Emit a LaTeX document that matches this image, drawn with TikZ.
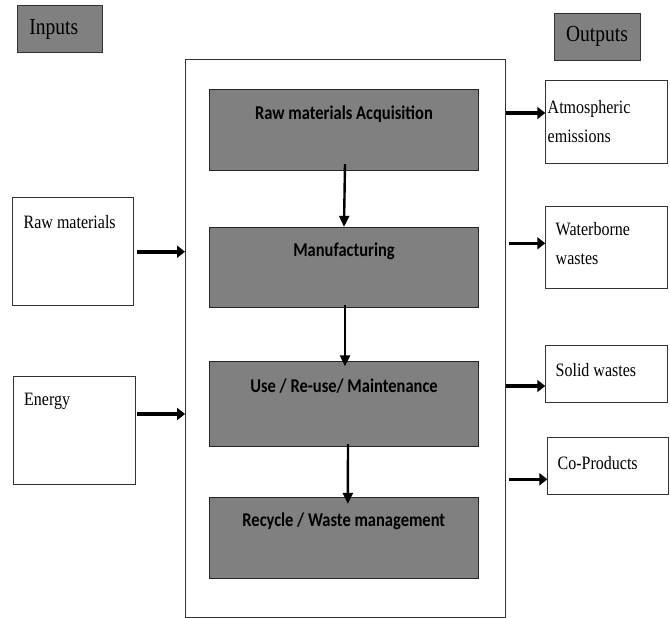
\documentclass[tikz,border=0pt]{standalone}
\usepackage{graphicx}
\usepackage{fontspec}
\setmainfont{Liberation Serif}
\newfontfamily\calfont{Carlito}
\usetikzlibrary{arrows.meta}
\definecolor{boxgray}{HTML}{808080}
\newcommand{\tallbox}[1]{\scalebox{1}[1.18]{#1}}
\begin{document}
\begin{tikzpicture}[x=1pt,y=-1pt,
  grayhead/.style={draw=black!80, fill=boxgray, line width=0.9pt, inner sep=0pt},
  graybox/.style={draw=black!85, fill=boxgray, line width=0.9pt, inner sep=0pt, minimum width=269pt},
  whitebox/.style={draw=black!80, fill=white, line width=0.9pt, inner sep=0pt},
  headtxt/.style={inner sep=0pt, font=\fontsize{19.5}{22}\selectfont},
  boldtxt/.style={inner sep=0pt, font=\calfont\bfseries\fontsize{16.5}{20}\selectfont},
  sidetxt/.style={inner sep=0pt, anchor=west, align=left, font=\fontsize{16}{29}\selectfont},
  harr/.style={line width=3.6pt, -{Triangle[length=8pt,width=12pt]}},
  varr/.style={line width=2.4pt, -{Triangle[length=11pt,width=10pt]}}
]
\useasboundingbox (0,0) rectangle (670,618);
% headers
\node[grayhead, minimum width=85.5pt, minimum height=46.7pt] (inputs) at (59.75,29.2) {};
\node[headtxt] (inputst) at ([xshift=-6pt]inputs.center) {\tallbox{Inputs}};
\node[grayhead, minimum width=86pt, minimum height=47pt] (outputs) at (597,36.5) {};
\node[headtxt] (outputst) at (outputs.center) {\tallbox{Outputs}};
% main frame
\node[whitebox, minimum width=320pt, minimum height=557.7pt] (main) at (345.5,338.15) {};
% stages
\node[graybox, minimum height=81.4pt] (acq) at (344,130) {};
\node[boldtxt] (acqt) at (344,114) {\tallbox{Raw materials Acquisition}};
\node[graybox, minimum height=80.4pt] (manu) at (344,267.5) {};
\node[boldtxt] (manut) at (344,251.7) {\tallbox{Manufacturing}};
\node[graybox, minimum height=85pt] (use) at (344,404.2) {};
\node[boldtxt] (uset) at (344,386) {\tallbox{Use / Re-use/ Maintenance}};
\node[graybox, minimum height=81pt] (rec) at (343.8,537.8) {};
\node[boldtxt] (rect) at (343.8,521.7) {\tallbox{Recycle / Waste management}};
% inputs
\node[whitebox, minimum width=121.7pt, minimum height=107.7pt] (rawm) at (72.85,251.15) {};
\node[sidetxt] (rawmt) at (23.5,222) {\tallbox{Raw materials}};
\node[whitebox, minimum width=122pt, minimum height=107.6pt] (energy) at (74,430.5) {};
\node[sidetxt] (energyt) at (24,401.7) {\tallbox{Energy}};
% outputs
\node[whitebox, minimum width=121.8pt, minimum height=83.3pt] (atm) at (606.6,121.65) {};
\node[sidetxt] (atmt) at (547.5,122) {\tallbox{Atmospheric}\\\tallbox{emissions}};
\node[whitebox, minimum width=121.8pt, minimum height=82.3pt] (water) at (606.6,247.15) {};
\node[sidetxt] (watert) at (555.5,243.3) {\tallbox{Waterborne}\\\tallbox{wastes}};
\node[whitebox, minimum width=121.8pt, minimum height=57pt] (solid) at (606.6,373.5) {};
\node[sidetxt] (solidt) at (555.5,370) {\tallbox{Solid wastes}};
\node[whitebox, minimum width=120.9pt, minimum height=56.6pt] (co) at (608.25,466) {};
\node[sidetxt] (cot) at (557.5,462.7) {\tallbox{Co-Products}};
% arrow rows
\coordinate (yraw) at (0,251.7);
\coordinate (yen) at (0,414);
\coordinate (yatm) at (0,113);
\coordinate (ywat) at (0,243.3);
\coordinate (ysol) at (0,386);
\coordinate (yco) at (0,479.3);
% input arrows
\draw[harr] ([xshift=2.5pt]rawm.east |- yraw) -- (main.west |- yraw);
\draw[harr] ([xshift=2pt]energy.east |- yen) -- (main.west |- yen);
% output arrows
\draw[harr] (main.east |- yatm) -- (atm.west |- yatm);
\draw[harr] ([xshift=3pt]main.east |- ywat) -- (water.west |- ywat);
\draw[harr] (main.east |- ysol) -- (solid.west |- ysol);
\draw[harr] ([xshift=3pt]main.east |- yco) -- (co.west |- yco);
% stage arrows
\draw[varr] ([xshift=1pt,yshift=7pt]acq.south) -- (manu.north);
\draw[varr] ([xshift=1pt,yshift=3pt]manu.south) -- ([xshift=1pt,yshift=-5pt]use.north);
\draw[varr] ([xshift=4pt,yshift=3pt]use.south) -- ([xshift=4pt,yshift=-7pt]rec.north);
\end{tikzpicture}
\end{document}
